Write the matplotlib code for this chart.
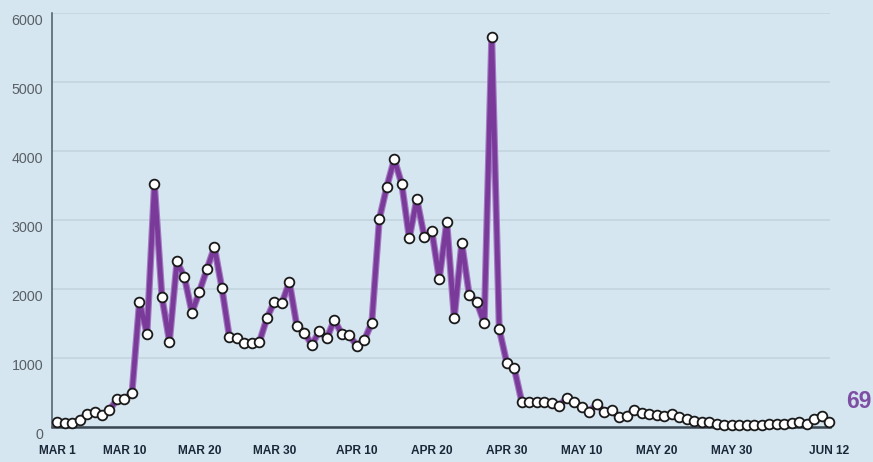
import matplotlib
matplotlib.use("Agg")
import matplotlib.pyplot as plt
import matplotlib.transforms as mtransforms
import pandas as pd

# ---- data -------------------------------------------------------------
start_date = "2020-03-01"
end_date = "2020-06-12"
values = [77, 53, 53, 100, 183, 222, 174, 246, 401, 401, 488,
          1817, 1348, 3523, 1880, 1237,
          2399, 2170, 1658, 1963, 2287, 2606, 2011,
          1300, 1286, 1223, 1223, 1232, 1576, 1817, 1793, 2102, 1464,
          1368, 1189, 1392, 1286, 1551, 1344, 1334, 1174, 1261, 1512,
          3011, 3484, 3881, 3518, 2735,
          3306, 2759, 2846, 2141, 2977, 1576, 2672, 1914, 1817, 1504, 5659, 1417, 933, 851,
          367, 358, 358, 358, 343, 309, 416, 358, 295, 222, 329, 222, 246, 140, 160, 246,
          208, 189, 174, 160, 185, 143,
          111, 92, 77, 68, 44, 29, 29, 29, 29, 29, 35, 44, 48, 48, 60, 70, 50, 110, 160, 69]
tick_dates = ["2020-03-01", "2020-03-10", "2020-03-20", "2020-03-30", "2020-04-10",
              "2020-04-20", "2020-04-30", "2020-05-10", "2020-05-20", "2020-05-30",
              "2020-06-12"]
tick_labels = ["MAR 1", "MAR 10", "MAR 20", "MAR 30", "APR 10", "APR 20",
               "APR 30", "MAY 10", "MAY 20", "MAY 30", "JUN 12"]
y_ticks = [0, 1000, 2000, 3000, 4000, 5000, 6000]
y_tick_labels = ["0", "1000", "2000", "3000", "4000", "5000", "6000"]
last_label = "69"

dates = pd.date_range(start_date, end_date, freq="D")

# ---- style ------------------------------------------------------------
bg = "#d5e6f0"
purple = "#7a3a9a"
purple_glow = "#a57ac2"

fig = plt.figure(figsize=(8.73, 4.62), dpi=100, facecolor=bg)
ax = fig.add_axes([0.0596, 0.0758, 0.8911, 0.8961])
ax.set_facecolor(bg)

ax.plot(dates, values, color=purple_glow, lw=5.0, solid_joinstyle="round",
        solid_capstyle="round", zorder=3, clip_on=False)
ax.plot(dates, values, color=purple, lw=3.4, solid_joinstyle="round",
        solid_capstyle="round", zorder=4, clip_on=False)
ax.plot(dates, values, ls="none", marker="o", ms=7.0, mfc="white",
        mec="#1a1a1a", mew=1.3, zorder=5, clip_on=False)

ax.set_ylim(0, 6000)
ax.set_xlim(pd.Timestamp(start_date) - pd.Timedelta(hours=16),
            pd.Timestamp(end_date) + pd.Timedelta(hours=3))

ax.set_yticks(y_ticks)
ax.set_yticklabels([])
ax.set_xticks(pd.to_datetime(tick_dates))
ax.set_xticklabels(tick_labels)

# y labels drawn slightly below their gridlines, as in the original
ylab_trans = mtransforms.blended_transform_factory(ax.transAxes, ax.transData) + \
    mtransforms.ScaledTranslation(-9 / 100, -8 / 100, fig.dpi_scale_trans)
for v, s in zip(y_ticks, y_tick_labels):
    ax.text(0, v, s, transform=ylab_trans, ha="right", va="center",
            fontsize=10.3, color="#5a5f66",
            family=["Liberation Sans", "DejaVu Sans"], clip_on=False)

ax.grid(axis="y", color="#c3d4df", lw=1.2, zorder=1)
ax.grid(axis="x", visible=False)
ax.tick_params(axis="both", length=0)
ax.tick_params(axis="x", pad=13, labelsize=8.6, labelcolor="#1b2838")

for lab in ax.get_xticklabels():
    lab.set_family(["Liberation Sans", "DejaVu Sans"])
    lab.set_fontweight("bold")

for s in ["top", "right"]:
    ax.spines[s].set_visible(False)
ax.spines["left"].set_color("#4d5a66")
ax.spines["left"].set_linewidth(1.1)
ax.spines["bottom"].set_color("#3a4652")
ax.spines["bottom"].set_linewidth(1.8)
ax.spines["bottom"].set_zorder(2)

ax.annotate(last_label, xy=(dates[-1], values[-1]), xytext=(12, 15),
            textcoords="offset points", ha="left", va="center",
            fontsize=16.5, fontweight="bold", color="#7d4ea3",
            family=["Liberation Sans", "DejaVu Sans"],
            annotation_clip=False)

fig.savefig("out.png", dpi=100, facecolor=bg)
